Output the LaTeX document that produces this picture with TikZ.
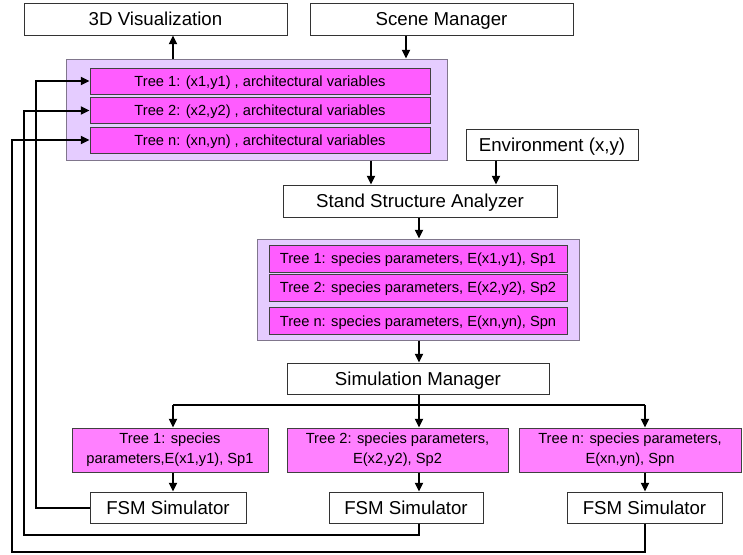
\documentclass[tikz,border=0pt]{standalone}
\usepackage{fontspec}
\setmainfont{Liberation Sans}
\usetikzlibrary{arrows.meta}
\definecolor{rowpink}{RGB}{255,92,255}
\definecolor{boxpink}{RGB}{255,128,255}
\definecolor{lav}{RGB}{229,204,255}
\definecolor{lavborder}{RGB}{128,118,140}
\begin{document}
\begin{tikzpicture}[x=0.75pt,y=-0.75pt,
  bigbox/.style={draw=black!80, line width=0.75pt, fill=white, inner sep=0pt, text height=10pt, text depth=0pt, font=\fontsize{14}{16}\selectfont},
  container/.style={draw=lavborder, line width=0.75pt, fill=lav, inner sep=0pt},
  rowbox/.style={draw=black!75, line width=0.75pt, fill=rowpink, inner sep=0pt, text height=7.9pt, text depth=0pt, font=\fontsize{11}{13}\selectfont},
  treebox/.style={draw=black!75, line width=0.75pt, fill=boxpink, inner sep=0pt, align=center, font=\fontsize{11}{15}\selectfont},
  conn/.style={line width=1.5pt},
  arr/.style={conn, -{Triangle[length=6.5pt,width=6pt]}}
]
\useasboundingbox (0,0) rectangle (743,554);

% top boxes
\node[bigbox, minimum width=197.25pt, minimum height=24pt] (viz) at (155.5,19) {3D Visualization};
\node[bigbox, minimum width=197.25pt, minimum height=24pt] (scene) at (441.5,19) {Scene Manager};

% first container
\node[container, minimum width=285.75pt, minimum height=75.75pt] (cont1) at (256.5,109.5) {};
\node[rowbox, minimum width=255pt, minimum height=19.5pt] (r1a) at (260,81) {Tree 1: (x1,y1) , architectural variables};
\node[rowbox, minimum width=255pt, minimum height=19.5pt] (r1b) at (260,110.5) {Tree 2: (x2,y2) , architectural variables};
\node[rowbox, minimum width=255pt, minimum height=19.5pt] (r1c) at (260,140) {Tree n: (xn,yn) , architectural variables};

% environment and analyzer
\node[bigbox, minimum width=129pt, minimum height=23.25pt] (env) at (552,144.5) {Environment (x,y)};
\node[bigbox, minimum width=205.5pt, minimum height=24pt] (ssa) at (420,201) {Stand Structure Analyzer};

% second container
\node[container, minimum width=241.5pt, minimum height=75.75pt] (cont2) at (418,289.5) {};
\node[rowbox, minimum width=223.5pt, minimum height=20.25pt] (r2a) at (418,258.5) {Tree 1: species parameters, E(x1,y1), Sp1};
\node[rowbox, minimum width=223.5pt, minimum height=20.25pt] (r2b) at (418,287.5) {Tree 2: species parameters, E(x2,y2), Sp2};
\node[rowbox, minimum width=223.5pt, minimum height=20.25pt] (r2c) at (418,321) {Tree n: species parameters, E(xn,yn), Spn};

% simulation manager
\node[bigbox, minimum width=196.5pt, minimum height=23.25pt] (sim) at (418,378.5) {Simulation Manager};

% tree boxes
\node[treebox, minimum width=147pt, minimum height=33pt] (p1) at (170,450) {Tree 1: species\\parameters,E(x1,y1), Sp1};
\node[treebox, minimum width=165.75pt, minimum height=33pt] (p2) at (397.5,450) {Tree 2: species parameters,\\E(x2,y2), Sp2};
\node[treebox, minimum width=166.5pt, minimum height=33pt] (p3) at (630,450) {Tree n: species parameters,\\E(xn,yn), Spn};

% FSM simulators
\node[bigbox, minimum width=117pt, minimum height=23.25pt] (fsm1) at (168,507.5) {FSM Simulator};
\node[bigbox, minimum width=115.5pt, minimum height=23.25pt] (fsm2) at (406,507.5) {FSM Simulator};
\node[bigbox, minimum width=116.25pt, minimum height=23.25pt] (fsm3) at (644.5,507.5) {FSM Simulator};

% connectors
\draw[arr] (cont1.north -| 173,0) -- (viz.south -| 173,0);
\draw[arr] (scene.south -| 406,0) -- (cont1.north -| 406,0);
\draw[arr] (cont1.south -| 371,0) -- (ssa.north -| 371,0);
\draw[arr] (env.south -| 496,0) -- (ssa.north -| 496,0);
\draw[arr] (ssa.south -| 419,0) -- (cont2.north -| 419,0);
\draw[arr] (cont2.south -| 419,0) -- (sim.north -| 419,0);

\coordinate (busL) at (173,405);
\coordinate (busM) at (419,405);
\coordinate (busR) at (645,405);
\draw[conn] (sim.south -| busM) -- (busM);
\draw[conn] (busL) -- (busR);
\draw[arr] (busL) -- (p1.north -| busL);
\draw[arr] (busM) -- (p2.north -| busM);
\draw[arr] (busR) -- (p3.north -| busR);

\draw[arr] (p1.south -| busL) -- (fsm1.north -| busL);
\draw[arr] (p2.south -| busM) -- (fsm2.north -| busM);
\draw[arr] (p3.south -| busR) -- (fsm3.north -| busR);

% feedback loops
\draw[arr] (fsm1.west) -| (36,81) -- (r1a.west);
\draw[arr] (fsm2.south -| busM) |- (24,535) |- (r1b.west);
\draw[arr] (fsm3.south -| busR) |- (12,552) |- (r1c.west);
\end{tikzpicture}
\end{document}
